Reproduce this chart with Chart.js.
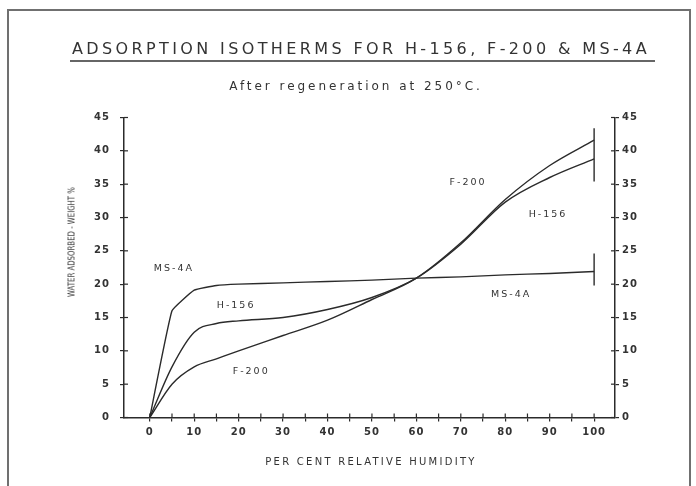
<!DOCTYPE html>
<html>
<head>
<meta charset="utf-8">
<script src="https://cdn.jsdelivr.net/npm/chart.js@4.4.1/dist/chart.umd.min.js"></script>
<style>
html,body{margin:0;padding:0;background:#fff;}
#wrap{position:relative;width:696px;height:486px;overflow:hidden;background:#fff;}
#frame{position:absolute;left:7px;top:9px;width:680px;height:500px;border:2px solid #707070;border-bottom:none;}
#chart{position:absolute;left:0;top:0;}
.t{position:absolute;white-space:nowrap;font-family:"DejaVu Sans",sans-serif;color:#333;line-height:1;transform:translate(-50%,-50%);}
#uline{position:absolute;left:70px;top:60px;width:585px;height:2px;background:#666;}
</style>
</head>
<body>
<div id="wrap">
  <div id="frame"></div>
  <canvas id="chart" width="696" height="486"></canvas>
  <div class="t" id="title" style="left:361px;top:49px;font-size:16px;">ADSORPTION ISOTHERMS FOR H-156, F-200 &amp; MS-4A</div>
  <div id="uline"></div>
  <div class="t" id="sub" style="left:356px;top:86px;font-size:12px;">After regeneration at 250°C.</div>
  <div class="t" id="xt" style="left:371px;top:462px;font-size:10px;">PER CENT RELATIVE HUMIDITY</div>
  <div class="t" id="yt" style="left:72px;top:242px;font-size:9px;">WATER ADSORBED - WEIGHT %</div>
</div>
<script>
// ---- data ----
const msX   = [0, 5, 10, 15, 20, 30, 40, 50, 60, 70, 80, 90, 100];
const msY   = [0, 16.0, 19.1, 19.8, 20.0, 20.2, 20.4, 20.6, 20.9, 21.1, 21.4, 21.6, 21.9];
const curveX = [0, 5, 10, 15, 20, 30, 40, 50, 60, 70, 80, 90, 100];
const h156Y = [0, 7.6, 12.8, 14.1, 14.5, 15.0, 16.2, 18.0, 20.9, 26.0, 32.3, 36.0, 38.8];
const f200Y = [0, 5.0, 7.6, 8.8, 10.0, 12.3, 14.6, 17.7, 20.9, 26.2, 32.7, 37.8, 41.6];
const barX = [100, 100];
const upperBarY = [35.4, 43.4];
const lowerBarY = [19.8, 24.6];
const xTicks = [0, 5, 10, 15, 20, 25, 30, 35, 40, 45, 50, 55, 60, 65, 70, 75, 80, 85, 90, 95, 100];
const yTicks = [0, 5, 10, 15, 20, 25, 30, 35, 40, 45];
const labelText = ['MS-4A', 'H-156', 'F-200', 'F-200', 'H-156', 'MS-4A'];
const labelX    = [5.2, 19.2, 22.6, 71.4, 89.4, 81.1];
const labelY    = [22.4, 16.8, 6.9, 35.3, 30.4, 18.4];

// ---- text fitting for html titles ----
function fit(id, w){
  const el = document.getElementById(id);
  el.style.letterSpacing = '0px';
  const n = el.textContent.length;
  const w0 = el.offsetWidth;
  el.style.letterSpacing = ((w - w0) / n) + 'px';
}
fit('title', 578); fit('sub', 254); fit('xt', 211);
(function(){
  const el = document.getElementById('yt');
  const k = 110 / el.offsetWidth;
  el.style.transform = 'translate(-50%,-50%) rotate(-90deg) scaleX(' + k + ')';
})();

const pts = (xs, ys) => xs.map((x, i) => ({x: x, y: ys[i]}));
const INK = '#2b2b2b';
const lineBase = {borderColor: INK, borderWidth: 1.4, pointRadius: 0, fill: false};

const spacing = {
  id: 'spacing',
  beforeDraw(chart){ try { chart.ctx.letterSpacing = '1px'; } catch(e) {} }
};
const crossTicks = {
  id: 'crossTicks',
  afterDraw(chart){
    const ctx = chart.ctx, a = chart.chartArea;
    ctx.save();
    ctx.strokeStyle = INK; ctx.lineWidth = 1.2;
    const sx = chart.scales.x, sy = chart.scales.y;
    xTicks.forEach(v => { const p = sx.getPixelForValue(v); ctx.beginPath(); ctx.moveTo(p, a.bottom); ctx.lineTo(p, a.bottom - 4); ctx.stroke(); });
    yTicks.forEach(v => { const p = sy.getPixelForValue(v);
      ctx.beginPath(); ctx.moveTo(a.left, p); ctx.lineTo(a.left + 4, p); ctx.stroke();
      ctx.beginPath(); ctx.moveTo(a.right, p); ctx.lineTo(a.right - 4, p); ctx.stroke(); });
    ctx.restore();
  }
};
const curveLabels = {
  id: 'curveLabels',
  afterDatasetsDraw(chart){
    const ctx = chart.ctx, sx = chart.scales.x, sy = chart.scales.y;
    ctx.save();
    ctx.font = '9.5px "DejaVu Sans"';
    ctx.fillStyle = '#333';
    ctx.textAlign = 'center'; ctx.textBaseline = 'middle';
    try { ctx.letterSpacing = '2px'; } catch(e) {}
    labelText.forEach((t, i) => ctx.fillText(t, sx.getPixelForValue(labelX[i]) + 1, sy.getPixelForValue(labelY[i])));
    ctx.restore();
  }
};

const tickFont = {family: '"DejaVu Sans"', size: 10, weight: 'bold'};
const yAxis = (pos, width, pad) => ({
  type: 'linear', position: pos, min: 0, max: 45,
  afterBuildTicks: s => { s.ticks = yTicks.map(v => ({value: v})); },
  ticks: {font: tickFont, color: '#333', padding: pad},
  grid: {drawOnChartArea: false, tickLength: 4, color: INK, lineWidth: 1.2},
  border: {color: INK, width: 1.5},
  afterFit: s => { s.width = width; }
});

new Chart(document.getElementById('chart'), {
  type: 'line',
  data: {
    datasets: [
      Object.assign({label: 'MS-4A', data: pts(msX, msY), tension: 0.1}, lineBase),
      Object.assign({label: 'H-156', data: pts(curveX, h156Y), cubicInterpolationMode: 'monotone'}, lineBase),
      Object.assign({label: 'F-200', data: pts(curveX, f200Y), cubicInterpolationMode: 'monotone'}, lineBase),
      Object.assign({label: 'bar1', data: pts(barX, upperBarY)}, lineBase),
      Object.assign({label: 'bar2', data: pts(barX, lowerBarY)}, lineBase)
    ]
  },
  options: {
    responsive: false, animation: false,
    layout: {padding: {top: 117.5, left: 0, right: 0, bottom: 0}},
    plugins: {legend: {display: false}, tooltip: {enabled: false}, title: {display: false}},
    scales: {
      x: {
        type: 'linear', position: 'bottom', min: -5.8, max: 104.7,
        afterBuildTicks: s => { s.ticks = xTicks.map(v => ({value: v})); },
        ticks: {font: tickFont, color: '#333', padding: 5, maxRotation: 0, autoSkip: false,
                callback: v => (v % 10 === 0 ? String(v) : '')},
        grid: {drawOnChartArea: false, tickLength: 4, color: INK, lineWidth: 1.2},
        border: {color: INK, width: 1.5},
        afterFit: s => { s.height = 486 - 417.5; }
      },
      y: yAxis('left', 124, 10),
      y2: yAxis('right', 696 - 615, 3)
    }
  },
  plugins: [spacing, crossTicks, curveLabels]
});
</script>
</body>
</html>
